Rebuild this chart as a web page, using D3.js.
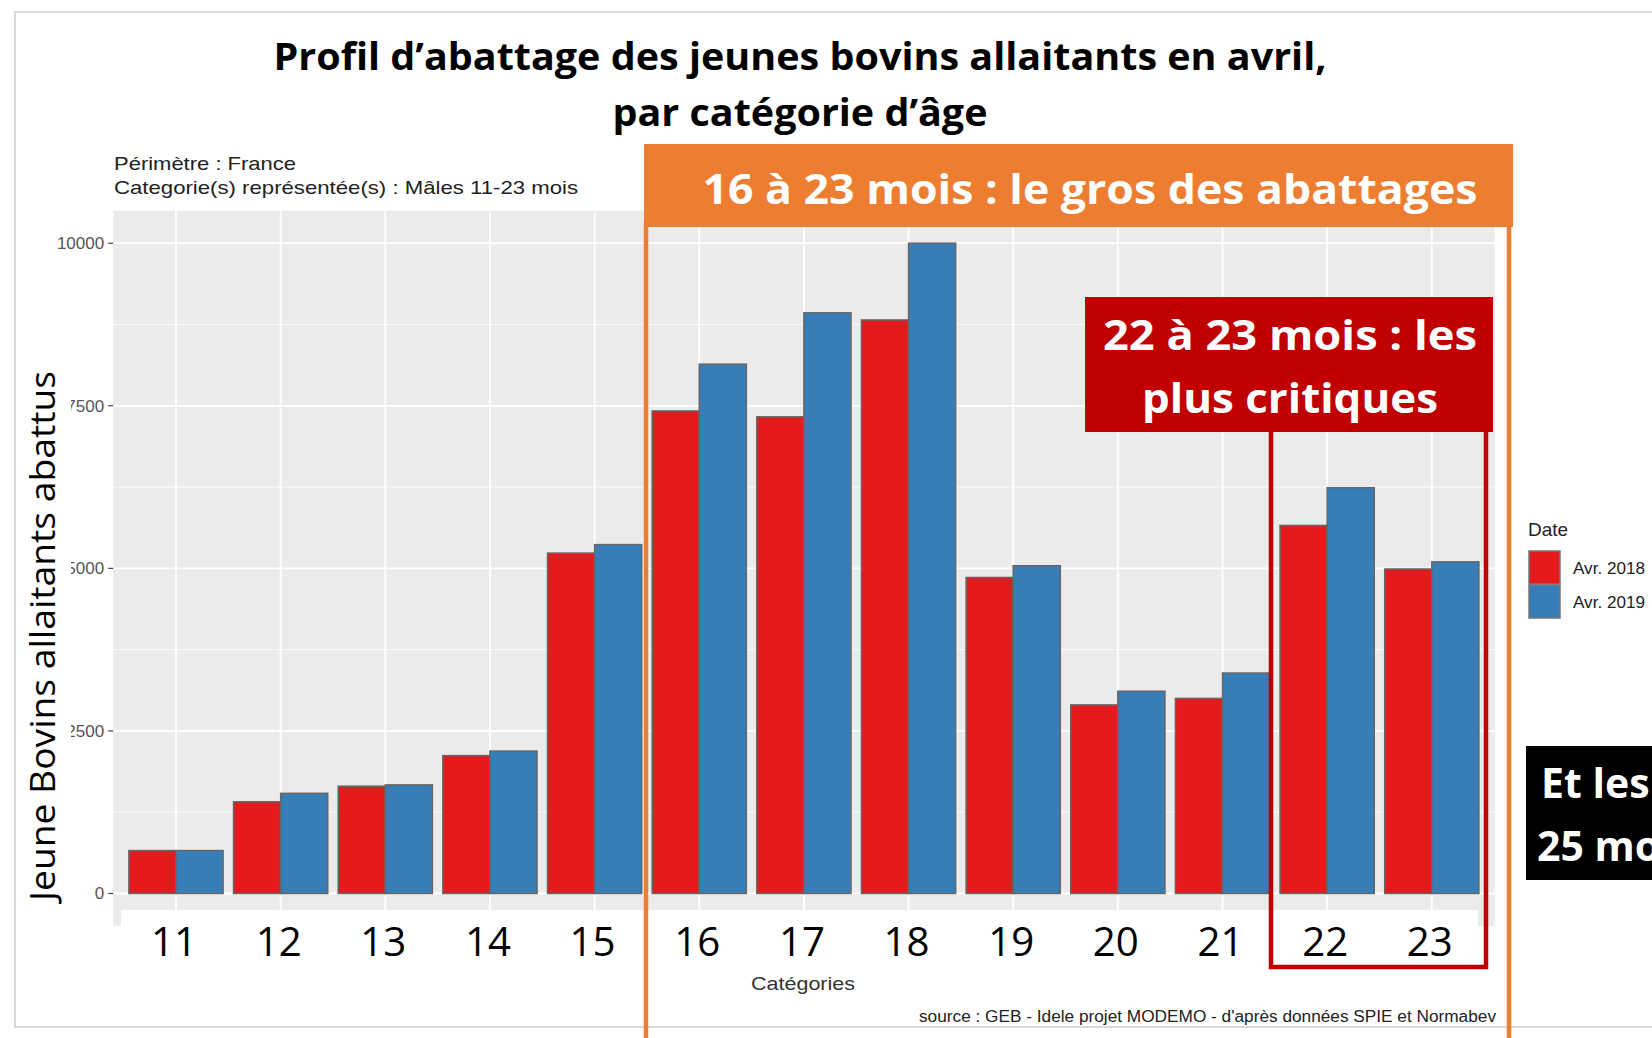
<!DOCTYPE html>
<html><head><meta charset="utf-8">
<script src="https://cdn.jsdelivr.net/npm/d3@7"></script>
<style>body{margin:0;background:#fff;overflow:hidden}svg{display:block}</style>
</head><body>
<svg id="c" width="1652" height="1038"></svg>
<script>
const categories = ["11","12","13","14","15","16","17","18","19","20","21","22","23"];
const series = ["Avr. 2018","Avr. 2019"];
const values2018 = [660,1410,1650,2120,5235,7420,7330,8820,4860,2900,3000,5660,4990];
const values2019 = [660,1540,1670,2190,5365,8140,8930,10000,5040,3110,3390,6240,5100];
const yTicks = [0,2500,5000,7500,10000];
const yMinor = [1250,3750,6250,8750];
const colors = ["#E41A1C","#377EB8"];

const svg = d3.select("#c");
svg.append("rect").attr("width",1652).attr("height",1038).attr("fill","#fff");
svg.append("rect").attr("x",15).attr("y",12).attr("width",1700).attr("height",1015)
  .attr("fill","none").attr("stroke","#d9d9d9").attr("stroke-width",2);

const L=113.2, R=1494.6, T=210.7, B=926;
const x = d3.scaleBand().domain(categories).range([L,R]).paddingInner(0.1).paddingOuter(0.15);
const xs = d3.scaleBand().domain(series).range([0,x.bandwidth()]);
const y = d3.scaleLinear().domain([-500,10500]).range([B,T]);

svg.append("rect").attr("x",L).attr("y",T).attr("width",R-L).attr("height",B-T).attr("fill","#EBEBEB");
const g = svg.append("g");
g.selectAll(".mn").data(yMinor).join("line").attr("x1",L).attr("x2",R)
  .attr("y1",d=>y(d)).attr("y2",d=>y(d)).attr("stroke","#fff").attr("stroke-width",0.8);
g.selectAll(".mj").data(yTicks).join("line").attr("x1",L).attr("x2",R)
  .attr("y1",d=>y(d)).attr("y2",d=>y(d)).attr("stroke","#fff").attr("stroke-width",1.8);
g.selectAll(".vx").data(categories).join("line")
  .attr("x1",d=>x(d)+x.bandwidth()/2).attr("x2",d=>x(d)+x.bandwidth()/2)
  .attr("y1",T).attr("y2",B).attr("stroke","#fff").attr("stroke-width",1.8);

const data = [];
categories.forEach((c,i)=>{ data.push({c,s:series[0],v:values2018[i],k:0}); data.push({c,s:series[1],v:values2019[i],k:1}); });
svg.append("g").selectAll("rect").data(data).join("rect")
  .attr("x",d=>x(d.c)+xs(d.s)).attr("width",xs.bandwidth())
  .attr("y",d=>y(d.v)).attr("height",d=>y(0)-y(d.v))
  .attr("fill",d=>colors[d.k]).attr("stroke","#666").attr("stroke-width",1.5);

const ya = svg.append("g");
ya.selectAll("line").data(yTicks).join("line").attr("x1",L-5).attr("x2",L)
  .attr("y1",d=>y(d)).attr("y2",d=>y(d)).attr("stroke","#444").attr("stroke-width",1.2);
ya.selectAll("text").data(yTicks).join("text").attr("x",L-9).attr("y",d=>y(d)+6)
  .attr("text-anchor","end").attr("font-family","Liberation Sans, Arial").attr("font-size",17)
  .attr("fill","#555").text(d=>d);

svg.append("rect").attr("x",20).attr("y",362).attr("width",51).attr("height",556).attr("fill","#fff");
svg.append("text").attr("transform","translate(55,636) rotate(-90)").attr("text-anchor","middle")
  .attr("font-family","Open Sans").attr("font-size",35).attr("fill","#000")
  .attr("textLength",530).attr("lengthAdjust","spacingAndGlyphs").text("Jeune Bovins allaitants abattus");

svg.append("rect").attr("x",121).attr("y",910).attr("width",1357).attr("height",58).attr("fill","#fff");
svg.append("g").selectAll("text").data(categories).join("text")
  .attr("x",d=>x(d)+x.bandwidth()/2 - 2).attr("y",956).attr("text-anchor","middle")
  .attr("font-family","Open Sans").attr("font-size",41).attr("fill","#000")
  .attr("textLength",46).attr("lengthAdjust","spacingAndGlyphs").text(d=>d);
svg.append("text").attr("x",803).attr("y",990).attr("text-anchor","middle")
  .attr("font-family","Liberation Sans, Arial").attr("font-size",19).attr("fill","#333")
  .attr("textLength",104).attr("lengthAdjust","spacingAndGlyphs").text("Catégories");
svg.append("text").attr("x",1496).attr("y",1022).attr("text-anchor","end")
  .attr("font-family","Liberation Sans, Arial").attr("font-size",16).attr("fill","#222")
  .attr("textLength",577).attr("lengthAdjust","spacingAndGlyphs")
  .text("source : GEB - Idele projet MODEMO - d'après données SPIE et Normabev");

svg.append("text").attr("x",800).attr("y",70).attr("text-anchor","middle")
  .attr("font-family","Open Sans").attr("font-weight","bold").attr("font-size",37)
  .attr("textLength",1053).attr("lengthAdjust","spacingAndGlyphs")
  .text("Profil d’abattage des jeunes bovins allaitants en avril,");
svg.append("text").attr("x",800).attr("y",126).attr("text-anchor","middle")
  .attr("font-family","Open Sans").attr("font-weight","bold").attr("font-size",37)
  .attr("textLength",375).attr("lengthAdjust","spacingAndGlyphs")
  .text("par catégorie d’âge");
svg.append("text").attr("x",114).attr("y",170).attr("font-family","Liberation Sans, Arial")
  .attr("font-size",19).attr("fill","#222").attr("textLength",182).attr("lengthAdjust","spacingAndGlyphs")
  .text("Périmètre : France");
svg.append("text").attr("x",114).attr("y",194).attr("font-family","Liberation Sans, Arial")
  .attr("font-size",19).attr("fill","#222").attr("textLength",464).attr("lengthAdjust","spacingAndGlyphs")
  .text("Categorie(s) représentée(s) : Mâles 11-23 mois");

svg.append("text").attr("x",1528).attr("y",536).attr("font-family","Liberation Sans, Arial")
  .attr("font-size",19).attr("fill","#222").text("Date");
series.forEach((s,i)=>{
  svg.append("rect").attr("x",1529).attr("y",551+i*34).attr("width",31).attr("height",33)
    .attr("fill",colors[i]).attr("stroke","#777").attr("stroke-width",1.5);
  svg.append("text").attr("x",1573).attr("y",574+i*34).attr("font-family","Liberation Sans, Arial")
    .attr("font-size",17).attr("fill","#222").attr("textLength",72).attr("lengthAdjust","spacingAndGlyphs").text(s);
});

svg.append("path").attr("d","M646,222 V1040 M1509,222 V1040").attr("stroke","#ED7D31").attr("stroke-width",4.5).attr("fill","none");
svg.append("rect").attr("x",644).attr("y",144).attr("width",869).attr("height",83).attr("fill","#ED7D31");
svg.append("text").attr("x",1090).attr("y",204).attr("text-anchor","middle")
  .attr("font-family","Open Sans").attr("font-weight","bold").attr("font-size",42).attr("fill","#fff")
  .attr("textLength",775).attr("lengthAdjust","spacingAndGlyphs").text("16 à 23 mois : le gros des abattages");

svg.append("path").attr("d","M1271,430 V967 H1486 V430").attr("stroke","#C00000").attr("stroke-width",4.5).attr("fill","none");
svg.append("rect").attr("x",1085).attr("y",297).attr("width",408).attr("height",135).attr("fill","#C00000");
svg.append("text").attr("x",1290).attr("y",350).attr("text-anchor","middle")
  .attr("font-family","Open Sans").attr("font-weight","bold").attr("font-size",42).attr("fill","#fff")
  .attr("textLength",374).attr("lengthAdjust","spacingAndGlyphs").text("22 à 23 mois : les");
svg.append("text").attr("x",1290).attr("y",413).attr("text-anchor","middle")
  .attr("font-family","Open Sans").attr("font-weight","bold").attr("font-size",42).attr("fill","#fff")
  .attr("textLength",296).attr("lengthAdjust","spacingAndGlyphs").text("plus critiques");

svg.append("rect").attr("x",1526).attr("y",746).attr("width",200).attr("height",134).attr("fill","#000");
svg.append("text").attr("x",1541).attr("y",798).attr("font-family","Open Sans").attr("font-weight","bold")
  .attr("font-size",41).attr("fill","#fff").text("Et les");
svg.append("text").attr("x",1537).attr("y",861).attr("font-family","Open Sans").attr("font-weight","bold")
  .attr("font-size",41).attr("fill","#fff").text("25 mois");
</script>
</body></html>
